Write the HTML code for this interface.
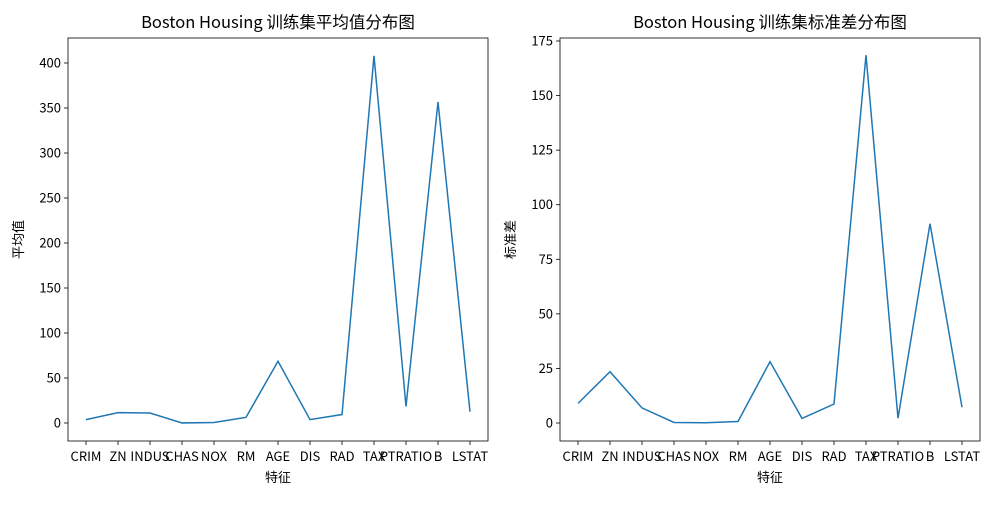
<!DOCTYPE html>
<html><head><meta charset="utf-8"><style>
body{margin:0;background:#fff}
svg text{font-family:"Noto Sans CJK SC","Liberation Sans",sans-serif;fill:#000}
</style></head><body>
<svg id="c" width="1000" height="500"></svg>
<script>
const categories=["CRIM","ZN","INDUS","CHAS","NOX","RM","AGE","DIS","RAD","TAX","PTRATIO","B","LSTAT"];
const meanValues=[3.7,11.5,11.1,0.07,0.55,6.3,68.6,3.8,9.4,408,18.4,356.7,12.6];
const stdValues=[9.0,23.5,6.9,0.25,0.12,0.7,28.1,2.1,8.7,168.5,2.2,91.3,7.2];
const meanTicks=[0,50,100,150,200,250,300,350,400];
const stdTicks=[0,25,50,75,100,125,150,175];
const svg=document.getElementById('c');
const NS='http://www.w3.org/2000/svg';
function mk(t,a,p){const e=document.createElementNS(NS,t);for(const k in a)e.setAttribute(k,a[k]);(p||svg).appendChild(e);return e;}
function panel(name,x0,x1,vals,ticks,yMax0,yPerUnit,title,ylabel){
  const g=mk('g',{});
  
  
  const top=38,bot=441,zeroY=423;
  const fx=i=>x0+18+i*(x1-x0-36)/(categories.length-1);
  const fy=v=>zeroY-v*yPerUnit;
  const fr=mk('rect',{x:x0,y:top,width:x1-x0,height:bot-top,fill:'none',stroke:'#000','stroke-width':0.8},g);
  
  
  ticks.forEach(t=>{const y=fy(t);
    mk('line',{x1:x0-4,x2:x0,y1:y,y2:y,stroke:'#000','stroke-width':0.8},g);
    const tx=mk('text',{x:x0-7,y:y+4.5,'text-anchor':'end','font-size':13},g);tx.textContent=t;
    
    });
  categories.forEach((c,i)=>{const x=fx(i);
    mk('line',{x1:x,x2:x,y1:bot,y2:bot+4,stroke:'#000','stroke-width':0.8},g);
    const tx=mk('text',{x:x,y:bot+20,'text-anchor':'middle','font-size':13},g);tx.textContent=c;
    
    });
  const ln=mk('polyline',{points:vals.map((v,i)=>fx(i)+','+fy(v)).join(' '),fill:'none',stroke:'#1f77b4','stroke-width':1.5},g);
  
  
  const tt=mk('text',{x:(x0+x1)/2,y:28,'text-anchor':'middle','font-size':16.5},g);tt.textContent=title;
  
  
  const xl=mk('text',{x:(x0+x1)/2,y:482,'text-anchor':'middle','font-size':13},g);xl.textContent='特征';
  
  
  const yl=mk('text',{x:0,y:0,'text-anchor':'middle','font-size':13,transform:`translate(${x0-45},${(top+bot)/2}) rotate(-90)`},g);yl.textContent=ylabel;
  
  
}
panel('mean-panel',68,488,meanValues,meanTicks,400,360/400,'Boston Housing 训练集平均值分布图','平均值');
panel('std-panel',560,980,stdValues,stdTicks,175,382/175,'Boston Housing 训练集标准差分布图','标准差');
</script>
</body></html>
